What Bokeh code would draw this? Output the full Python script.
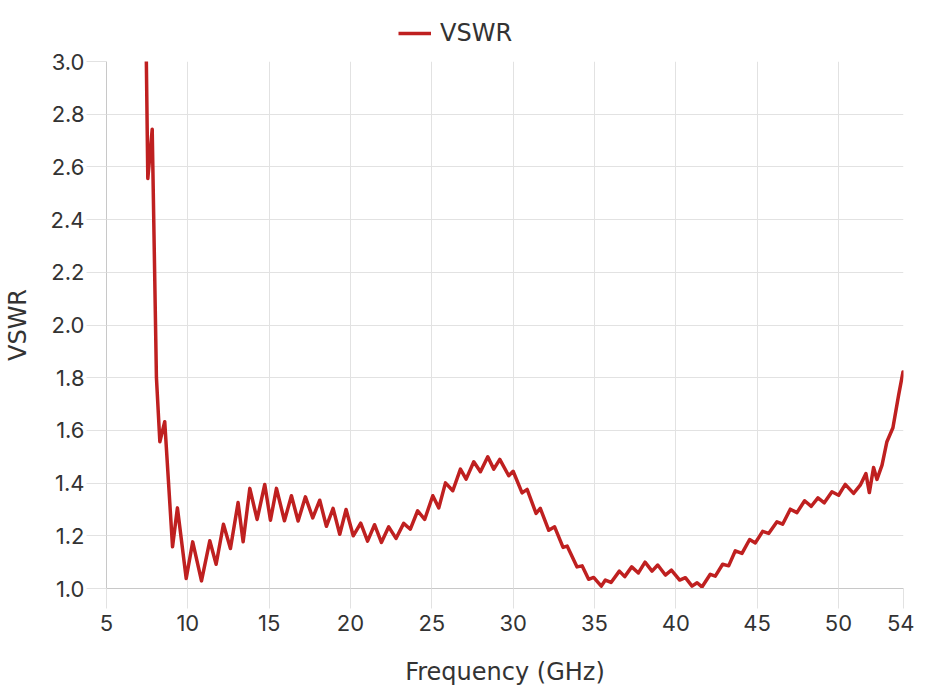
from bokeh.plotting import figure
from bokeh.layouts import column
from bokeh.models import (ColumnDataSource, FixedTicker, PrintfTickFormatter,
                          Legend, LegendItem, Range1d)
from bokeh.embed import file_html
from bokeh.resources import INLINE

# ---- data ----
freq_ghz = [7.45, 7.54, 7.81, 8.07, 8.28, 8.58, 9.06, 9.36, 9.90, 10.30,
            10.84, 11.35, 11.74, 12.19, 12.62, 13.09, 13.40, 13.81, 14.26, 14.73,
            15.08, 15.45, 15.94, 16.37, 16.78, 17.23, 17.68, 18.11, 18.52, 18.93,
            19.34, 19.73, 20.17, 20.63, 21.05, 21.48, 21.90, 22.35, 22.80, 23.27,
            23.68, 24.13, 24.56, 25.06, 25.43, 25.84, 26.29, 26.76, 27.11, 27.58,
            27.99, 28.44, 28.81, 29.18, 29.73, 30.00, 30.55, 30.86, 31.41, 31.67,
            32.19, 32.55, 33.07, 33.32, 33.93, 34.24, 34.64, 34.95, 35.42, 35.67,
            36.02, 36.53, 36.86, 37.29, 37.70, 38.11, 38.54, 38.89, 39.36, 39.73,
            40.24, 40.59, 41.00, 41.31, 41.61, 42.12, 42.43, 42.88, 43.25, 43.66,
            44.07, 44.54, 44.89, 45.34, 45.71, 46.22, 46.57, 47.04, 47.45, 47.92,
            48.33, 48.74, 49.13, 49.60, 50.01, 50.42, 50.93, 51.34, 51.69, 51.90,
            52.16, 52.37, 52.68, 52.98, 53.35, 53.70, 53.97]
vswr = [3.000, 2.556, 2.743, 1.800, 1.557, 1.633, 1.158, 1.306, 1.038, 1.177,
        1.029, 1.181, 1.092, 1.244, 1.152, 1.326, 1.177, 1.380, 1.262, 1.395,
        1.259, 1.380, 1.257, 1.352, 1.256, 1.348, 1.268, 1.335, 1.236, 1.304,
        1.206, 1.300, 1.200, 1.248, 1.180, 1.242, 1.175, 1.234, 1.190, 1.247,
        1.225, 1.295, 1.262, 1.352, 1.306, 1.401, 1.371, 1.453, 1.415, 1.481,
        1.443, 1.500, 1.453, 1.490, 1.428, 1.445, 1.363, 1.376, 1.285, 1.304,
        1.221, 1.234, 1.156, 1.161, 1.082, 1.086, 1.035, 1.042, 1.009, 1.032,
        1.023, 1.066, 1.045, 1.082, 1.059, 1.100, 1.066, 1.089, 1.051, 1.070,
        1.032, 1.041, 1.009, 1.022, 1.006, 1.054, 1.047, 1.092, 1.086, 1.143,
        1.133, 1.186, 1.173, 1.217, 1.209, 1.253, 1.244, 1.301, 1.288, 1.333,
        1.312, 1.344, 1.325, 1.367, 1.354, 1.395, 1.361, 1.392, 1.436, 1.364,
        1.459, 1.414, 1.468, 1.557, 1.610, 1.734, 1.822]

x_ticks = [5, 10, 15, 20, 25, 30, 35, 40, 45, 50, 54]
y_ticks = [1.0, 1.2, 1.4, 1.6, 1.8, 2.0, 2.2, 2.4, 2.6, 2.8, 3.0]
series_name = "VSWR"
x_title = "Frequency (GHz)"
y_title = "VSWR"

TICK_FONT = "Inter"
TITLE_FONT = "DejaVu Sans"
TXT = "#333333"
GRID = "#e2e2e2"
AXIS = "#c8c8c8"
RED = "#bf2020"

src = ColumnDataSource(dict(x=freq_ghz, y=vswr))

# ---- main plot ----
p = figure(frame_width=797, frame_height=527, output_backend="svg",
           toolbar_location=None,
           x_range=Range1d(5, 54), y_range=Range1d(1.0, 3.0),
           min_border_left=106, min_border_right=11, min_border_top=14,
           min_border_bottom=100)
p.outline_line_color = None
p.background_fill_color = "white"

r = p.line("x", "y", source=src, line_color=RED, line_width=3.5,
           line_join="round", line_cap="round")

for ax, ticks in ((p.xaxis[0], x_ticks), (p.yaxis[0], y_ticks)):
    ax.ticker = FixedTicker(ticks=ticks)
    ax.axis_line_color = AXIS
    ax.axis_line_width = 1
    ax.major_tick_line_color = GRID
    ax.major_tick_in = 0
    ax.major_tick_out = 20
    ax.minor_tick_line_color = None
    ax.major_label_text_font = TICK_FONT
    ax.major_label_text_font_size = "22px"
    ax.major_label_text_color = TXT
    ax.axis_label_text_font = TITLE_FONT
    ax.axis_label_text_font_size = "24px"
    ax.axis_label_text_color = TXT
    ax.axis_label_text_font_style = "normal"

p.yaxis[0].formatter = PrintfTickFormatter(format="%.1f")
p.xaxis[0].axis_label = x_title
p.yaxis[0].axis_label = y_title
p.xaxis[0].major_label_standoff = 6
p.yaxis[0].major_label_standoff = 2
p.xaxis[0].axis_label_standoff = 24
p.yaxis[0].axis_label_standoff = 16

p.xgrid[0].ticker = FixedTicker(ticks=x_ticks)
p.ygrid[0].ticker = FixedTicker(ticks=y_ticks)
p.grid.grid_line_color = GRID
p.grid.grid_line_width = 1

# ---- legend strip above the plot (frame aligned with the main plot) ----
lg = figure(width=914, height=47, output_backend="svg", toolbar_location=None,
            x_range=Range1d(100, 101), y_range=Range1d(100, 101),
            min_border=0, x_axis_type=None, y_axis_type=None)
lg.outline_line_color = None
lg.grid.visible = False
proxy = lg.line("x", "y", source=src, line_color=RED, line_width=3.5)

legend = Legend(items=[LegendItem(label=series_name, renderers=[proxy])],
                location=(292, 0), orientation="horizontal",
                border_line_color=None, background_fill_alpha=0,
                label_text_font=TITLE_FONT, label_text_font_size="24px",
                label_text_color=TXT, glyph_width=33, glyph_height=24,
                label_standoff=9, padding=0, margin=0, spacing=0)
lg.add_layout(legend, "center")

layout = column(lg, p, spacing=0)
open("out.html", "w").write(file_html(layout, INLINE))
